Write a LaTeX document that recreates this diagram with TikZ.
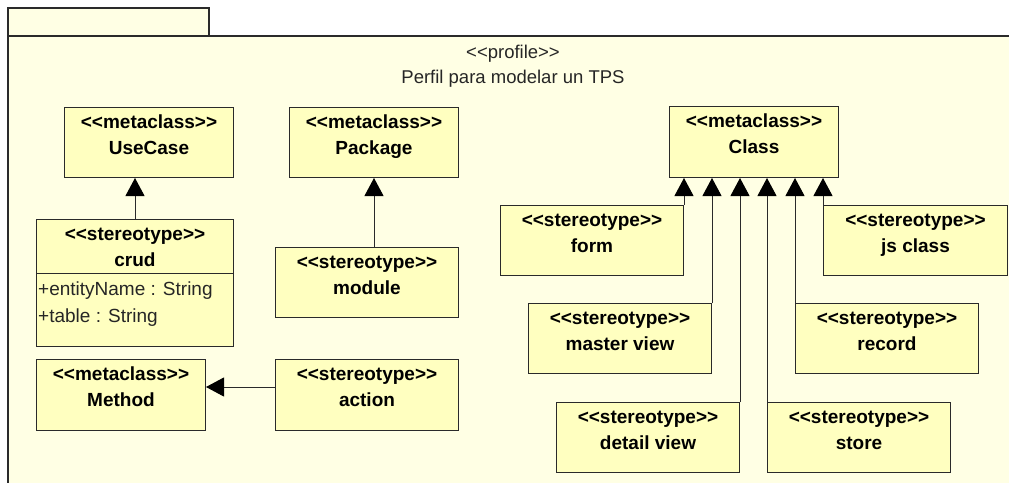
\documentclass[tikz,border=0pt]{standalone}
\usepackage{fontspec}
\setmainfont{Liberation Sans}[Ligatures=NoCommon]
\usetikzlibrary{calc,arrows.meta}

\definecolor{pkgfill}{HTML}{FFFFE4}
\definecolor{clsfill}{HTML}{FFFFC0}
\definecolor{edge}{HTML}{2A2A2A}

\tikzset{
  frameline/.style={draw=edge, line width=1.4pt, fill=pkgfill},
  clsbox/.style={draw=edge, line width=1pt, fill=clsfill, rectangle, inner sep=0pt},
  clstext/.style={inner sep=0pt, font=\fontsize{19}{25}\selectfont\bfseries},
  attrtext/.style={inner sep=0pt, font=\fontsize{19}{25}\selectfont, text=black!85},
  headtext/.style={inner sep=0pt, font=\fontsize{18.5}{24}\selectfont, text=black!85},
  generalization/.style={draw=edge, line width=1pt,
    -{Triangle[width=19pt,length=18pt,color=black,fill=black]}},
}

% name, left, top, width, height, stereotype, title
\newcommand\umlcls[7]{%
  \node[clsbox, minimum width=#4pt, minimum height=#5pt, anchor=north west] (#1) at (#2,#3) {};
  \node[clstext, anchor=base] (#1-st) at ($(#1.north)+(0,21)$) {<{}<#6>{}>};
  \node[clstext, anchor=base] (#1-nm) at ($(#1.north)+(0,47)$) {#7};
}

\begin{document}
\begin{tikzpicture}[x=1pt,y=-1pt]
  \useasboundingbox (0,0) rectangle (1009,482);
  \clip (0,0) rectangle (1009,482);
  \fill[white] (0,0) rectangle (1009,482);

  % profile package: tab and body
  \path[frameline] (8,8) rectangle (209,36);
  \path[frameline] (8,36) rectangle (1030,500);
  \node[headtext, anchor=base] (prof) at (513,58) {<{}<profile>{}>};
  \node[headtext, anchor=base] (ptitle) at (513,83) {Perfil para modelar un TPS};

  % metaclasses
  \umlcls{uc}{64}{107}{169}{70}{metaclass}{UseCase}
  \umlcls{pkg}{289}{107}{169}{70}{metaclass}{Package}
  \umlcls{meth}{36}{359}{169}{71}{metaclass}{Method}
  \umlcls{cls}{669}{106}{169}{71}{metaclass}{Class}

  % stereotypes
  \umlcls{crud}{36}{219}{197}{127}{stereotype}{crud}
  \draw[draw=edge, line width=1pt] ($(crud.north west)+(0,54)$) -- ($(crud.north east)+(0,54)$);
  \node[attrtext, anchor=base west] (crud-a1) at ($(crud.north west)+(2,76)$) {+entityName : String};
  \node[attrtext, anchor=base west] (crud-a2) at ($(crud.north west)+(2,103)$) {+table : String};

  \umlcls{module}{275}{247}{183}{70}{stereotype}{module}
  \umlcls{action}{275}{359}{183}{71}{stereotype}{action}

  \umlcls{form}{500}{205}{183}{70}{stereotype}{form}
  \umlcls{js}{823}{205}{184}{70}{stereotype}{js class}
  \umlcls{master}{528}{303}{183}{70}{stereotype}{master view}
  \umlcls{record}{795}{303}{183}{70}{stereotype}{record}
  \umlcls{detail}{556}{402}{183}{70}{stereotype}{detail view}
  \umlcls{store}{767}{402}{183}{70}{stereotype}{store}

  % generalizations
  \draw[generalization] (crud.north) -- (crud.north |- uc.south);
  \draw[generalization] (module.north -| pkg.south) -- (pkg.south);
  \coordinate (acty) at (0,387);
  \draw[generalization] (acty -| action.west) -- (acty -| meth.east);

  \draw[generalization] (form.north east) -- (form.north east |- cls.south);
  \draw[generalization] (master.north east) -- (master.north east |- cls.south);
  \draw[generalization] (detail.north east) -- (detail.north east |- cls.south);
  \draw[generalization] (store.north west) -- (store.north west |- cls.south);
  \draw[generalization] (record.north west) -- (record.north west |- cls.south);
  \draw[generalization] (js.north west) -- (js.north west |- cls.south);
\end{tikzpicture}
\end{document}
